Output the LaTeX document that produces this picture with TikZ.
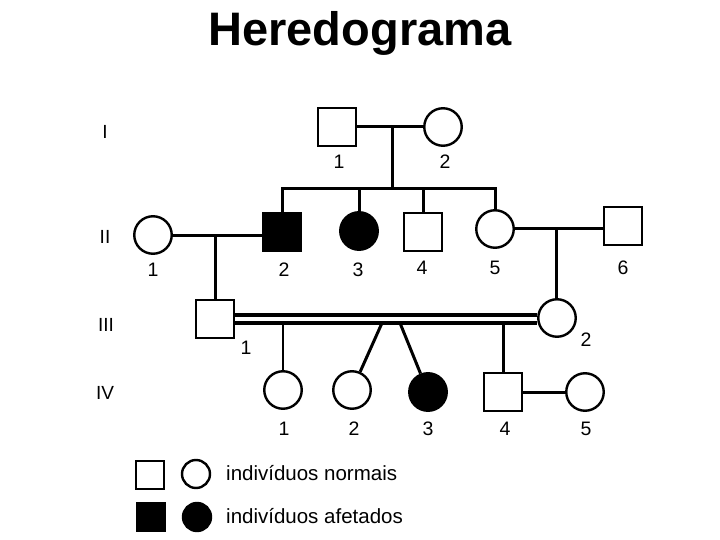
\documentclass[tikz,border=0pt]{standalone}
\usepackage{fontspec}
\setmainfont{Liberation Sans}

\begin{document}
\begin{tikzpicture}[x=1pt, y=-1pt,
		male/.style={draw, rectangle, line width=2.4pt, minimum size=38.5pt, inner sep=0pt},
		female/.style={draw, circle, line width=2.4pt, minimum size=37.5pt, inner sep=0pt},
		affected/.style={fill=black},
		num/.style={font=\fontsize{19.5}{19.5}\selectfont, inner sep=0pt},
		gen/.style={font=\fontsize{19}{19}\selectfont, inner sep=0pt},
		link/.style={line width=3pt},
		thinlink/.style={line width=1.6pt}]
		
		\useasboundingbox (0,0) rectangle (720,540);
		
		% Title
		\node[font=\fontsize{47}{47}\selectfont\bfseries, inner sep=0pt] (title) at (360,33) {Heredograma};
		
		% Generations
		\node[gen] (gI) at (105,132) {I};
		\node[gen] (gII) at (105,237) {II};
		\node[gen] (gIII) at (106,325) {III};
		\node[gen] (gIV) at (105,393) {IV};
		
		% Nodes
		\node[male] (I1) at (337,127) {};
		\node[female] (I2) at (443,127) {};
		
		\node[female] (II1) at (153,235) {};
		\node[male, affected] (II2) at (282,232) {};
		\node[female, affected] (II3) at (359,231) {};
		\node[male] (II4) at (423,232) {};
		\node[female] (II5) at (495,229) {};
		\node[male] (II6) at (623,226) {};
		
		\node[male] (III1) at (215,319) {};
		\node[female] (III2) at (557,318) {};
		
		\node[female] (IV1) at (283,390) {};
		\node[female] (IV2) at (352,390) {};
		\node[female, affected] (IV3) at (428,392) {};
		\node[male] (IV4) at (503,392) {};
		\node[female] (IV5) at (585,392) {};
		
		% Numbers
		\node[num] (nI1) at (339,162) {1};
		\node[num] (nI2) at (445,162) {2};
		\node[num] (nII1) at (153,270) {1};
		\node[num] (nII2) at (284,270) {2};
		\node[num] (nII3) at (358,270) {3};
		\node[num] (nII4) at (422,268) {4};
		\node[num] (nII5) at (495,268) {5};
		\node[num] (nII6) at (623,268) {6};
		\node[num] (nIII1) at (246,348) {1};
		\node[num] (nIII2) at (586,340) {2};
		\node[num] (nIV1) at (284,429) {1};
		\node[num] (nIV2) at (354,429) {2};
		\node[num] (nIV3) at (428,429) {3};
		\node[num] (nIV4) at (505,429) {4};
		\node[num] (nIV5) at (586,429) {5};
		
		% Lines
		\coordinate (mI) at (392,127);
		\coordinate (sI) at (392,189);
		\draw[link] (I1) -- (I2);
		\draw[link] (mI) -- (sI);
		\draw[link] (II2.north) -- (II2.north |- sI) -- (II5.north |- sI) -- (II5.north);
		\draw[link] (II3.north) -- (II3.north |- sI);
		\draw[link] (II4.north) -- (II4.north |- sI);
		
		\coordinate (mII) at (215,235);
		\draw[link] (II1.east) -- (II1.east -| II2.west);
		\draw[link] (mII) -- (III1.north);
		
		\coordinate (mII56) at (556,229);
		\draw[link] (II5) -- (II5 -| II6.west);
		\draw[link] (mII56) -- (mII56 |- III2.north);
		
		% consanguineous marriage
		\draw[line width=4pt] ([yshift=4pt]III1.east) -- ([yshift=4pt]III1.east -| III2.west);
		\draw[line width=4pt] ([yshift=-3.5pt]III1.east) -- ([yshift=-3.5pt]III1.east -| III2.west);
		
		\coordinate (c1) at (283,323);
		\coordinate (c2) at (382,323);
		\coordinate (c3) at (400,323);
		\coordinate (c4) at (503,323);
		\draw[thinlink] (c1) -- (IV1);
		\draw[link] (c2) -- (IV2);
		\draw[link] (c3) -- (IV3);
		\draw[link] (c4) -- (IV4);
		\draw[link] (IV4) -- (IV5);
		
		% Legend
		\node[male, minimum size=28pt] (legM) at (150,475) {};
		\node[female, minimum size=28pt] (legF) at (196,474) {};
		\node[male, affected, minimum size=28pt] (legMa) at (151,517) {};
		\node[female, affected, minimum size=28pt] (legFa) at (197,517) {};
		\node[anchor=west, inner sep=0pt, font=\fontsize{20.5}{20.5}\selectfont] (txtN) at (226,473) {indivíduos normais};
		\node[anchor=west, inner sep=0pt, font=\fontsize{20.5}{20.5}\selectfont] (txtA) at (226,516) {indivíduos afetados};
		
	\end{tikzpicture}
\end{document}
